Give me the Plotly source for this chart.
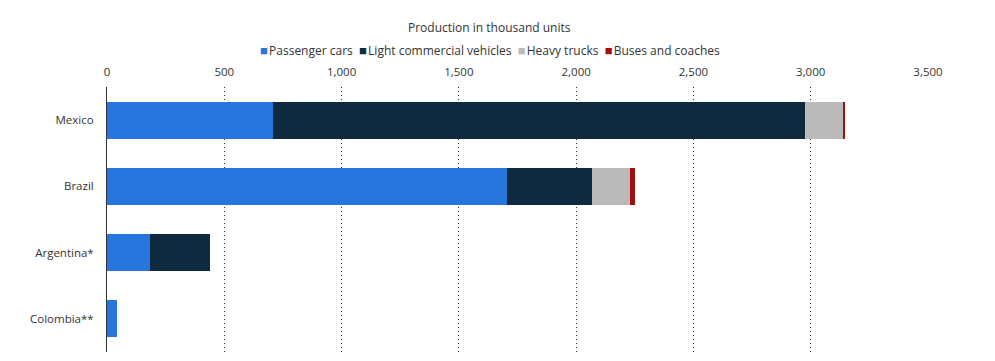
import plotly.graph_objects as go

countries = ["Mexico", "Brazil", "Argentina*", "Colombia**"]
passenger_cars = [707, 1707, 184, 44]
light_commercial = [2269, 362, 253, 0]
heavy_trucks = [162, 159, 0, 0]
buses_coaches = [7, 23, 0, 0]

series = [
    ("Passenger cars", passenger_cars, "#2876DD"),
    ("Light commercial vehicles", light_commercial, "#0F2A3F"),
    ("Heavy trucks", heavy_trucks, "#BABABA"),
    ("Buses and coaches", buses_coaches, "#A30F0F"),
]

fig = go.Figure()
for name, vals, col in series:
    fig.add_trace(go.Bar(
        y=countries, x=vals, name=name, orientation="h",
        marker=dict(color=col, line=dict(width=0)),
        showlegend=False,
    ))

legend_text = "&nbsp;&nbsp;".join(
    f"<span style='color:{col};font-size:13px'>■</span>&#8202;{name}" for name, _, col in series
)

# page body has an 8px default margin, so the figure is drawn 8px smaller
fig.update_layout(
    barmode="stack",
    bargap=0.44,
    width=987, height=353,
    margin=dict(l=99, r=67, t=79, b=9, autoexpand=False),
    paper_bgcolor="white", plot_bgcolor="white",
    font=dict(family="Open Sans", size=11, color="#333333"),
    annotations=[
        dict(text="Production in thousand units", x=0.466, xref="paper",
             y=1.226, yref="paper", yanchor="middle", showarrow=False,
             font=dict(size=12, color="#333333")),
        dict(text=legend_text, x=0.466, xref="paper",
             y=1.14, yref="paper", yanchor="middle", showarrow=False,
             font=dict(size=12, color="#333333")),
    ],
    xaxis=dict(side="top", range=[0, 3500], tickvals=[0, 500, 1000, 1500, 2000, 2500, 3000, 3500],
               ticktext=["0", "500", "1,000", "1,500", "2,000", "2,500", "3,000", "3,500"],
               showgrid=True, gridcolor="#333333", griddash="1px,3px", gridwidth=1,
               zeroline=False, showline=False, ticks="", ticklabelstandoff=8,
               automargin=False, tickfont=dict(size=11.5, color="#333333")),
    yaxis=dict(autorange="reversed", showline=True, linecolor="#333333", linewidth=1,
               ticks="", ticklabelstandoff=10, showgrid=False, automargin=False,
               tickfont=dict(size=11.5, color="#333333")),
)

fig.write_html("out.html")
